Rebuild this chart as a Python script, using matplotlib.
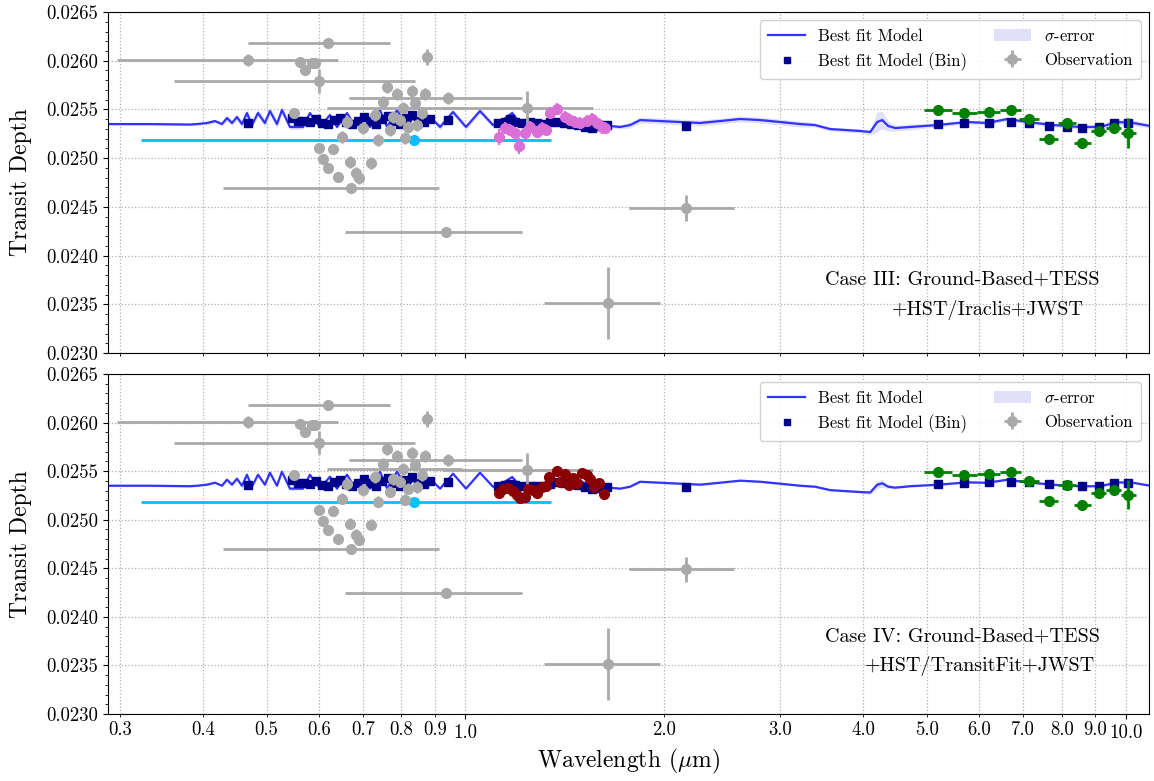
import numpy as np
import matplotlib
matplotlib.use("Agg")
import matplotlib.pyplot as plt
from matplotlib.ticker import FixedLocator, FormatStrFormatter, MultipleLocator
from matplotlib.lines import Line2D
from matplotlib.patches import Patch

plt.rcParams["font.family"] = "serif"
plt.rcParams["font.serif"] = ["cmr10", "DejaVu Serif"]
plt.rcParams["mathtext.fontset"] = "cm"
plt.rcParams["axes.formatter.use_mathtext"] = True

# ---------------- best-fit forward model (wavelength in micron) ----------------
model_wl = [0.2874, 0.3327, 0.3826, 0.3921, 0.4061, 0.4175, 0.4278, 0.4353, 0.4430,
            0.4508, 0.4587, 0.4667, 0.4749, 0.4850, 0.4969, 0.5057, 0.5182, 0.5273,
            0.5423, 0.5675, 0.5813, 0.6020, 0.6234, 0.6389, 0.6617, 0.6804, 0.6997,
            0.7170, 0.7424, 0.7608, 0.7875, 0.8157, 0.8329, 0.8594, 0.8839, 0.9153,
            0.9576, 1.002, 1.052, 1.101, 1.128, 1.177, 1.210, 1.253, 1.297, 1.367,
            1.440, 1.518, 1.599, 1.656, 1.715, 1.776, 1.839, 1.972, 2.114, 2.267,
            2.431, 2.607, 2.795, 2.997, 3.214, 3.386, 3.567, 3.760, 3.962, 4.103,
            4.204, 4.278, 4.369, 4.476, 4.717, 5.183, 5.754, 6.170, 6.616, 7.095,
            7.768, 8.536, 9.153, 9.711, 10.27, 10.90]
model_iii = [0.025350, 0.025350, 0.025345, 0.025350, 0.025361, 0.025381, 0.025350, 0.025412,
             0.025361, 0.025422, 0.025350, 0.025463, 0.025340, 0.025463, 0.025361, 0.025484,
             0.025350, 0.025494, 0.025320, 0.025320, 0.025463, 0.025320, 0.025443, 0.025320,
             0.025463, 0.025330, 0.025443, 0.025320, 0.025494, 0.025320, 0.025494, 0.025330,
             0.025412, 0.025330, 0.025422, 0.025320, 0.025474, 0.025320, 0.025484, 0.025340,
             0.025371, 0.025463, 0.025361, 0.025350, 0.025361, 0.025371, 0.025391, 0.025381,
             0.025361, 0.025330, 0.025320, 0.025340, 0.025391, 0.025381, 0.025371, 0.025361,
             0.025381, 0.025402, 0.025391, 0.025371, 0.025350, 0.025340, 0.025299, 0.025289,
             0.025279, 0.025268, 0.025371, 0.025391, 0.025330, 0.025309, 0.025320, 0.025340,
             0.025371, 0.025361, 0.025402, 0.025371, 0.025340, 0.025320, 0.025320, 0.025371,
             0.025361, 0.025330]
model_iii_err = [0.00001, 0.00001, 0.00001, 0.00001, 0.00002, 0.00002, 0.00002, 0.00003,
                 0.00003, 0.00003, 0.00003, 0.00004, 0.00004, 0.00004, 0.00004, 0.00004,
                 0.00004, 0.00004, 0.00003, 0.00002, 0.00002, 0.00002, 0.00002, 0.00002,
                 0.00002, 0.00002, 0.00002, 0.00002, 0.00002, 0.00002, 0.00002, 0.00002,
                 0.00002, 0.00002, 0.00003, 0.00003, 0.00003, 0.00003, 0.00003, 0.00003,
                 0.00002, 0.00003, 0.00001, 0.00001, 0.00001, 0.00001, 0.00001, 0.00001,
                 0.00001, 0.00002, 0.00002, 0.00003, 0.00003, 0.00003, 0.00003, 0.00003,
                 0.00003, 0.00003, 0.00003, 0.00003, 0.00003, 0.00002, 0.00002, 0.00002,
                 0.00002, 0.00003, 0.00010, 0.00009, 0.00005, 0.00003, 0.00003, 0.00002,
                 0.00002, 0.00002, 0.00002, 0.00002, 0.00002, 0.00002, 0.00003, 0.00003,
                 0.00003, 0.00002]
model_iv = [0.025350, 0.025350, 0.025345, 0.025350, 0.025361, 0.025381, 0.025350, 0.025412,
            0.025361, 0.025422, 0.025350, 0.025463, 0.025340, 0.025463, 0.025361, 0.025484,
            0.025350, 0.025494, 0.025320, 0.025320, 0.025463, 0.025320, 0.025443, 0.025320,
            0.025463, 0.025330, 0.025443, 0.025320, 0.025494, 0.025320, 0.025494, 0.025330,
            0.025412, 0.025330, 0.025422, 0.025320, 0.025474, 0.025320, 0.025484, 0.025340,
            0.025361, 0.025440, 0.025350, 0.025345, 0.025355, 0.025371, 0.025391, 0.025381,
            0.025361, 0.025330, 0.025320, 0.025340, 0.025391, 0.025381, 0.025371, 0.025361,
            0.025381, 0.025402, 0.025391, 0.025371, 0.025350, 0.025340, 0.025305, 0.025295,
            0.025285, 0.025280, 0.025360, 0.025375, 0.025340, 0.025330, 0.025345, 0.025360,
            0.025385, 0.025380, 0.025412, 0.025385, 0.025360, 0.025345, 0.025345, 0.025385,
            0.025380, 0.025350]
model_iv_err = [0.00001, 0.00001, 0.00001, 0.00001, 0.00001, 0.00001, 0.00001, 0.00002,
                0.00002, 0.00002, 0.00002, 0.00002, 0.00002, 0.00002, 0.00002, 0.00002,
                0.00002, 0.00002, 0.00002, 0.00001, 0.00001, 0.00001, 0.00001, 0.00001,
                0.00001, 0.00001, 0.00001, 0.00001, 0.00001, 0.00001, 0.00001, 0.00001,
                0.00001, 0.00001, 0.00001, 0.00001, 0.00001, 0.00001, 0.00001, 0.00001,
                0.00001, 0.00001, 0.00001, 0.00001, 0.00001, 0.00001, 0.00001, 0.00001,
                0.00001, 0.00001, 0.00001, 0.00001, 0.00001, 0.00001, 0.00001, 0.00001,
                0.00001, 0.00001, 0.00001, 0.00001, 0.00001, 0.00001, 0.00001, 0.00001,
                0.00001, 0.00002, 0.00004, 0.00004, 0.00002, 0.00001, 0.00001, 0.00001,
                0.00001, 0.00001, 0.00001, 0.00001, 0.00001, 0.00001, 0.00001, 0.00001,
                0.00001, 0.00001]

# ---------------- binned model ----------------
bin_wl = [0.468, 0.546, 0.558, 0.569, 0.581, 0.594, 0.606, 0.619, 0.632, 0.646, 0.659,
          0.673, 0.688, 0.702, 0.717, 0.732, 0.748, 0.763, 0.779, 0.796, 0.813, 0.830,
          0.848, 0.866, 0.884, 0.941,
          1.121, 1.148, 1.169, 1.189, 1.218, 1.253, 1.284, 1.315, 1.344, 1.377, 1.411,
          1.445, 1.481, 1.518, 1.555, 1.599, 1.639, 2.159,
          5.20, 5.70, 6.20, 6.70, 7.15, 7.65, 8.15, 8.60, 9.10, 9.60, 10.10]
bin_iii = [0.025361, 0.025412, 0.025381, 0.025381, 0.025371, 0.025402, 0.025361, 0.025350,
           0.025391, 0.025412, 0.025371, 0.025350, 0.025381, 0.025422, 0.025381, 0.025350,
           0.025402, 0.025433, 0.025381, 0.025350, 0.025412, 0.025443, 0.025381, 0.025371,
           0.025402, 0.025391,
           0.025361, 0.025371, 0.025402, 0.025371, 0.025361, 0.025371, 0.025361, 0.025350,
           0.025371, 0.025371, 0.025361, 0.025350, 0.025340, 0.025320, 0.025309, 0.025330,
           0.025340, 0.025330,
           0.025350, 0.025361, 0.025361, 0.025371, 0.025361, 0.025330, 0.025320, 0.025309,
           0.025320, 0.025361, 0.025361]
bin_iv = [0.025361, 0.025412, 0.025381, 0.025381, 0.025371, 0.025402, 0.025361, 0.025350,
          0.025391, 0.025412, 0.025371, 0.025350, 0.025381, 0.025422, 0.025381, 0.025350,
          0.025402, 0.025433, 0.025381, 0.025350, 0.025412, 0.025443, 0.025381, 0.025371,
          0.025402, 0.025391,
          0.025350, 0.025361, 0.025371, 0.025355, 0.025345, 0.025350, 0.025345, 0.025350,
          0.025371, 0.025391, 0.025381, 0.025371, 0.025361, 0.025340, 0.025320, 0.025330,
          0.025340, 0.025340,
          0.025370, 0.025380, 0.025385, 0.025390, 0.025385, 0.025370, 0.025360, 0.025350,
          0.025350, 0.025380, 0.025380]

# ---------------- observations ----------------
# ground-based photometry / spectroscopy
ground_wl = [0.619, 0.469, 0.561, 0.571, 0.585, 0.591, 0.600, 0.876, 0.760, 0.787, 0.829,
             0.867, 0.942, 0.749, 0.838, 0.550, 1.240, 0.803, 0.729, 0.776, 0.795, 0.858,
             0.661, 0.699, 0.768, 0.818, 0.846, 0.650, 0.736, 0.809, 0.600, 0.630, 0.608,
             0.668, 0.719, 0.619, 0.682, 0.641, 0.689, 0.671, 0.936, 2.159, 1.644]
ground_depth = [0.026182, 0.026007, 0.025987, 0.025905, 0.025977, 0.025977, 0.025792,
                0.026038, 0.025730, 0.025658, 0.025689, 0.025658, 0.025617, 0.025576,
                0.025566, 0.025463, 0.025515, 0.025520, 0.025443, 0.025422, 0.025392,
                0.025463, 0.025371, 0.025309, 0.025289, 0.025320, 0.025340, 0.025217,
                0.025186, 0.025207, 0.025104, 0.025094, 0.024991, 0.024960, 0.024950,
                0.024899, 0.024847, 0.024806, 0.024796, 0.024694, 0.024242, 0.024488,
                0.023513]
ground_wl_err = [0.150, 0.172, 0, 0, 0, 0, 0.238, 0, 0, 0, 0, 0, 0.275, 0, 0, 0, 0.320,
                 0.186, 0, 0, 0, 0, 0, 0, 0, 0, 0, 0, 0, 0, 0, 0, 0, 0, 0, 0, 0, 0, 0,
                 0.242, 0.280, 0.390, 0.330]
ground_depth_err = [0.00004, 0.00006, 0.00005, 0.00005, 0.00005, 0.00005, 0.00012, 0.00008,
                    0.00006, 0.00006, 0.00006, 0.00006, 0.00006, 0.00006, 0.00006, 0.00005,
                    0.00017, 0.00006, 0.00006, 0.00006, 0.00006, 0.00006, 0.00006, 0.00006,
                    0.00006, 0.00006, 0.00006, 0.00006, 0.00006, 0.00006, 0.00005, 0.00005,
                    0.00005, 0.00006, 0.00006, 0.00005, 0.00006, 0.00005, 0.00006, 0.00004,
                    0.00004, 0.00013, 0.00037]

# TESS
tess_wl = [0.835]
tess_depth = [0.025186]
tess_wl_err = [0.513]

# HST WFC3 reduced with Iraclis
hst_wl = [1.124, 1.148, 1.169, 1.189, 1.206, 1.231, 1.253, 1.284, 1.307, 1.325, 1.344,
          1.377, 1.416, 1.440, 1.466, 1.492, 1.529, 1.555, 1.583, 1.611, 1.627]
iraclis_depth = [0.025220, 0.025310, 0.025289, 0.025258, 0.025125, 0.025258, 0.025320,
                 0.025268, 0.025310, 0.025289, 0.025463, 0.025504, 0.025422, 0.025391,
                 0.025371, 0.025361, 0.025381, 0.025402, 0.025361, 0.025320, 0.025310]
iraclis_err = [0.00008, 0.00006, 0.00006, 0.00006, 0.00008, 0.00006, 0.00006, 0.00006,
               0.00006, 0.00006, 0.00006, 0.00006, 0.00006, 0.00006, 0.00006, 0.00006,
               0.00006, 0.00006, 0.00006, 0.00007, 0.00006]

# HST WFC3 reduced with TransitFit
tfit_wl = [1.124, 1.139, 1.159, 1.181, 1.198, 1.210, 1.231, 1.244, 1.266, 1.284, 1.307,
           1.325, 1.339, 1.377, 1.390, 1.416, 1.435, 1.456, 1.476, 1.503, 1.529, 1.545,
           1.566, 1.594, 1.622]
tfit_depth = [0.025275, 0.025316, 0.025326, 0.025296, 0.025254, 0.025224, 0.025234,
              0.025316, 0.025306, 0.025275, 0.025337, 0.025347, 0.025440, 0.025501,
              0.025388, 0.025471, 0.025357, 0.025430, 0.025378, 0.025481, 0.025460,
              0.025419, 0.025337, 0.025378, 0.025265]

# JWST
jwst_wl = [5.20, 5.70, 6.20, 6.70, 7.15, 7.65, 8.15, 8.60, 9.10, 9.60, 10.10]
jwst_depth = [0.025494, 0.025463, 0.025474, 0.025494, 0.025402, 0.025196, 0.025361,
              0.025155, 0.025279, 0.025309, 0.025258]
jwst_depth_err = [0.00003, 0.00003, 0.00003, 0.00003, 0.00003, 0.00003, 0.00003, 0.00004,
                  0.00005, 0.00004, 0.00015]
jwst_wl_err = [0.25] * len(jwst_wl)

# ---------------- styling ----------------
MODEL_C = "#3333ff"
BIN_C = "#00008b"
OBS_C = "darkgray"
BAND_C = "#e0e0fa"

major_ticks = [1.0, 10.0]
minor_ticks = [0.3, 0.4, 0.5, 0.6, 0.7, 0.8, 0.9, 2.0, 3.0, 4.0, 5.0, 6.0, 7.0, 8.0, 9.0]

fig = plt.figure(figsize=(11.54, 7.81), dpi=100)
ax1 = fig.add_axes([0.0936, 0.5480, 0.9021, 0.4366])
ax2 = fig.add_axes([0.0936, 0.0858, 0.9021, 0.4353], sharex=ax1)


def draw_panel(ax, model, model_err, bins, hst_x, hst_y, hst_err, hst_color, caption):
    m = np.asarray(model)
    e = np.asarray(model_err)
    ax.fill_between(model_wl, m - e, m + e, color=BAND_C, lw=0, zorder=1)
    ax.plot(model_wl, m, color=MODEL_C, lw=1.6, zorder=2)
    ax.plot(bin_wl, bins, "s", color=BIN_C, ms=6, zorder=3)

    ax.errorbar(tess_wl, tess_depth, xerr=tess_wl_err, fmt="o", color="deepskyblue",
                ms=7, elinewidth=2, capsize=0, zorder=4)
    obs = ax.errorbar(ground_wl, ground_depth, xerr=ground_wl_err, yerr=ground_depth_err,
                      fmt="o", color=OBS_C, ms=7, elinewidth=2, capsize=0, zorder=5)
    ax.errorbar(hst_x, hst_y, yerr=hst_err, fmt="o", color=hst_color, ms=7,
                elinewidth=1.6, capsize=0, zorder=5)
    ax.errorbar(jwst_wl, jwst_depth, xerr=jwst_wl_err, yerr=jwst_depth_err, fmt="o",
                color="green", ms=7, elinewidth=2, capsize=0, zorder=5)

    ax.set_xscale("log")
    ax.set_xlim(0.2875, 10.85)
    ax.set_ylim(0.0230, 0.0265)
    ax.yaxis.set_major_locator(MultipleLocator(0.0005))
    ax.yaxis.set_minor_locator(MultipleLocator(0.0001))
    ax.yaxis.set_major_formatter(FormatStrFormatter("%.4f"))
    ax.xaxis.set_major_locator(FixedLocator(major_ticks))
    ax.xaxis.set_minor_locator(FixedLocator(minor_ticks))
    ax.xaxis.set_major_formatter(FormatStrFormatter("%.1f"))
    ax.xaxis.set_minor_formatter(FormatStrFormatter("%.1f"))
    ax.tick_params(axis="both", which="both", labelsize=13.5)
    ax.xaxis.grid(True, which="both", ls=":", color="#b0b0b0", lw=0.9)
    ax.yaxis.grid(True, which="major", ls=":", color="#b0b0b0", lw=0.9)
    ax.set_axisbelow(True)
    ax.set_ylabel("Transit Depth", fontsize=17)
    ax.yaxis.set_label_coords(-0.073, 0.5)

    handles = [Line2D([], [], color=MODEL_C, lw=1.6),
               Line2D([], [], marker="s", ls="none", color=BIN_C, ms=5),
               Patch(facecolor=BAND_C, edgecolor="none"),
               obs]
    labels = ["Best fit Model", "Best fit Model (Bin)", r"$\sigma$-error", "Observation"]
    ax.legend(handles, labels, ncol=2, loc="upper right", fontsize=12,
              framealpha=0.9, borderpad=0.5, columnspacing=1.6, handlelength=2.2)

    ax.text(0.821, caption[1], caption[0], transform=ax.transAxes, ha="center",
            va="center", fontsize=14.5)
    ax.text(caption[3], caption[4], caption[2], transform=ax.transAxes, ha="center",
            va="center", fontsize=14.5)


draw_panel(ax1, model_iii, model_iii_err, bin_iii, hst_wl, iraclis_depth, iraclis_err,
           "orchid", ("Case III: Ground-Based+TESS", 0.214, "+HST/Iraclis+JWST", 0.845, 0.126))
draw_panel(ax2, model_iv, model_iv_err, bin_iv, tfit_wl, tfit_depth, None,
           "darkred", ("Case IV: Ground-Based+TESS", 0.229, "+HST/TransitFit+JWST", 0.838, 0.141))

plt.setp(ax1.get_xticklabels(which="both"), visible=False)
ax2.set_xlabel(r"Wavelength ($\mu$m)", fontsize=17)

fig.savefig("out.png", dpi=100)
